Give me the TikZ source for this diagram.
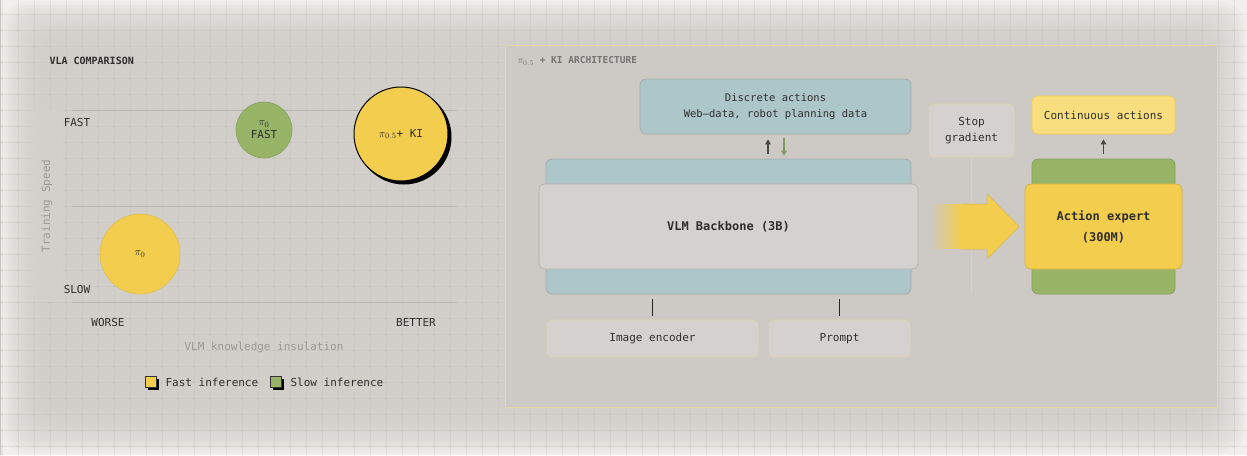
\documentclass[tikz,border=0pt]{standalone}
\usepackage{fontspec}
\setmonofont{DejaVu Sans Mono}
\usetikzlibrary{fadings,arrows.meta}
\definecolor{bgout}{HTML}{F1F0EC}
\definecolor{shadowc}{HTML}{D2CECA}
\definecolor{gridc}{HTML}{C6C2BE}
\definecolor{dotc}{HTML}{A8A4A0}
\definecolor{bandc}{HTML}{D3CFCB}
\definecolor{axisc}{HTML}{B8B4B0}
\definecolor{rpanel}{HTML}{CDC9C4}
\definecolor{rborder}{HTML}{E3D7A6}
\definecolor{teal}{HTML}{ADC6C9}
\definecolor{tealb}{HTML}{A3ABAA}
\definecolor{greyb}{HTML}{D5D1CE}
\definecolor{greybd}{HTML}{B5B1AD}
\definecolor{yelb}{HTML}{E2D7AE}
\definecolor{ykey}{HTML}{F3CD4E}
\definecolor{ykeyb}{HTML}{D9B43C}
\definecolor{gkey}{HTML}{97B467}
\definecolor{gkeyb}{HTML}{86A05F}
\definecolor{ylight}{HTML}{F8DE7E}
\definecolor{ylightb}{HTML}{F1CF58}
\definecolor{txt}{HTML}{2E2E2E}
\definecolor{mutetxt}{HTML}{9B9792}
\definecolor{darkarr}{HTML}{454545}
\definecolor{greenarr}{HTML}{7F9A5E}
\definecolor{sgline}{HTML}{E3D3A2}
\tikzset{
  box/.style={rounded corners=6pt, minimum width=#1, inner sep=0pt, align=center, text=txt},
  fnt/.style={font=\ttfamily\fontsize{11}{13}\selectfont},
  smallfnt/.style={font=\ttfamily\fontsize{10.5}{16}\selectfont},
  boldfnt/.style={font=\ttfamily\bfseries\fontsize{12}{21}\selectfont},
  uparr/.style={draw=darkarr, line width=1.8pt, -{Triangle[length=5pt,width=5.5pt]}, shorten >=5pt, shorten <=5pt},
  downarr/.style={draw=greenarr, line width=1.8pt, -{Triangle[length=5pt,width=5.5pt]}, shorten >=3pt, shorten <=4pt},
  feedline/.style={draw=black!85, line width=1.6pt, shorten >=5pt, shorten <=4pt},
  legsq/.style={minimum size=11pt, inner sep=0pt, draw=black!80, line width=0.6pt},
}
\begin{document}
\begin{tikzpicture}[x=1pt,y=-1pt]
\useasboundingbox (0,0) rectangle (1247,455);
% background and soft shadow
\fill[bgout] (0,0) rectangle (1247,455);
\draw[gridc, line width=0.8pt] (0.4,0) -- (0.4,455);
\foreach \k in {0,...,15}
  \fill[shadowc, fill opacity=0.14, rounded corners=24pt] ({2+3*\k},{2+3*\k}) rectangle ({1245-3*\k},{453-3*\k});
% grid
\foreach \x in {1.7,17.7,...,1247} \draw[gridc, line width=0.4pt, opacity=0.35] (\x,0) -- (\x,455);
\foreach \y in {14.5,30.5,...,455} \draw[gridc, line width=0.4pt, opacity=0.35] (0,\y) -- (1247,\y);
\foreach \x in {1.7,17.7,...,1247}{\foreach \y in {14.5,30.5,...,455}{\fill[dotc, opacity=0.5] (\x,\y) circle[radius=0.7];}}

% ---------------- left panel ----------------
\node[anchor=west, text=txt, font=\ttfamily\bfseries\fontsize{10}{12}\selectfont] (title1) at (46,61) {VLA COMPARISON};
\fill[bandc] (33,110) rectangle (63,302);
\draw[axisc, line width=0.9pt] (72,110) -- (457,110);
\draw[axisc, line width=0.9pt] (72,206) -- (457,206);
\draw[axisc, line width=0.9pt] (72,302) -- (457,302);
\node[rotate=90, text=mutetxt, fnt] (ylab) at (47,206) {Training Speed};
\node[text=txt, fnt] (fastl) at (77,122) {FAST};
\node[text=txt, fnt] (slowl) at (77,289) {SLOW};
\node[text=txt, fnt] (worse) at (108,322) {WORSE};
\node[text=txt, fnt] (better) at (416,322) {BETTER};
\node[text=mutetxt, fnt] (xlab) at (264,347) {VLM knowledge insulation};

\node[circle, minimum size=56pt, inner sep=0pt, fill=gkey, draw=gkeyb, line width=0.6pt, align=center, text=txt, font=\ttfamily\fontsize{11}{12}\selectfont] (pfast) at (264,130) {$\pi_0$\\[1pt]FAST};
\fill[black] (404,137) circle[radius=47.5];
\node[circle, minimum size=94pt, inner sep=0pt, fill=ykey, draw=black, line width=1pt, text=txt, font=\ttfamily\fontsize{11}{13}\selectfont] (pki) at (401,134) {{\fontsize{11}{11}\selectfont$\pi_{0.5}$}+ KI};
\node[circle, minimum size=80pt, inner sep=0pt, fill=ykey, draw=ykey!92!black, line width=0.5pt, text=txt, font=\fontsize{11}{11}\selectfont] (pzero) at (140,254) {$\pi_0$};

\fill[black] (147.5,378.5) rectangle (158.5,389.5);
\node[legsq, fill=ykey] (ly) at (151,382) {};
\node[anchor=west, text=txt, fnt] (lyt) at (162,382) {Fast inference};
\fill[black] (272.5,378.5) rectangle (283.5,389.5);
\node[legsq, fill=gkey] (lg) at (276,382) {};
\node[anchor=west, text=txt, fnt] (lgt) at (287,382) {Slow inference};

% ---------------- right panel ----------------
\filldraw[fill=rpanel, draw=rborder, line width=0.8pt] (505,45) rectangle (1217,407);
\node[anchor=west, text=black!55, font=\ttfamily\bfseries\fontsize{9.5}{11}\selectfont] (title2) at (514,61) {{\mdseries\fontsize{10}{10}\selectfont$\pi_{0.5}$} + KI ARCHITECTURE};

\node[box=271pt, minimum height=55pt, fill=teal, draw=tealb, line width=0.7pt, smallfnt] (disc) at (775.5,106.5) {Discrete actions\\Web–data, robot planning data};
\node[box=365pt, minimum height=135pt, fill=teal, draw=tealb, line width=0.7pt] (vlmback) at (728.5,226.5) {};
\node[box=379pt, minimum height=85pt, fill=greyb, draw=greybd, line width=0.7pt, boldfnt] (vlm) at (728.5,226.5) {VLM Backbone (3B)};

\coordinate (ua) at (768,0);
\coordinate (da) at (784,0);
\draw[uparr] (vlmback.north -| ua) -- (disc.south -| ua);
\draw[downarr] (disc.south -| da) -- (vlmback.north -| da);

\node[box=211pt, minimum height=37pt, fill=greyb, draw=yelb, line width=0.7pt, fnt] (img) at (652.5,338.5) {Image encoder};
\node[box=141pt, minimum height=37pt, fill=greyb, draw=yelb, line width=0.7pt, fnt] (prompt) at (839.5,338.5) {Prompt};
\draw[feedline] (img.north) -- (img.north |- vlmback.south);
\draw[feedline] (prompt.north) -- (prompt.north |- vlmback.south);

\node[box=85pt, minimum height=53pt, fill=greyb, draw=yelb, line width=0.7pt, font=\ttfamily\fontsize{11}{16}\selectfont] (stop) at (971.5,130.5) {Stop\\gradient};
\coordinate (sgend) at (971.5,294);
\draw[sgline, line width=1pt] (stop.south) -- (sgend);

% big arrow
\fill[ykey, path fading=west] (930,204) rectangle (962,249);
\filldraw[fill=ykey, draw=ykey!90!black, line width=0.5pt] (961,204) -- (987,204) -- (987,194) -- (1019,226.5) -- (987,259) -- (987,249) -- (961,249);
\fill[ykey] (960,204.3) rectangle (963,248.7);

\node[box=143pt, minimum height=135pt, fill=gkey, draw=gkeyb, line width=0.7pt] (aeback) at (1103.5,226.5) {};
\node[box=157pt, minimum height=85pt, fill=ykey, draw=ykeyb, line width=0.7pt, boldfnt] (ae) at (1103.5,226.5) {Action expert\\(300M)};
\node[box=143pt, minimum height=38pt, fill=ylight, draw=ylightb, line width=0.8pt, fnt] (cont) at (1103.5,115) {Continuous actions};
\draw[uparr] (aeback.north) -- (cont.south);
\end{tikzpicture}
\end{document}
